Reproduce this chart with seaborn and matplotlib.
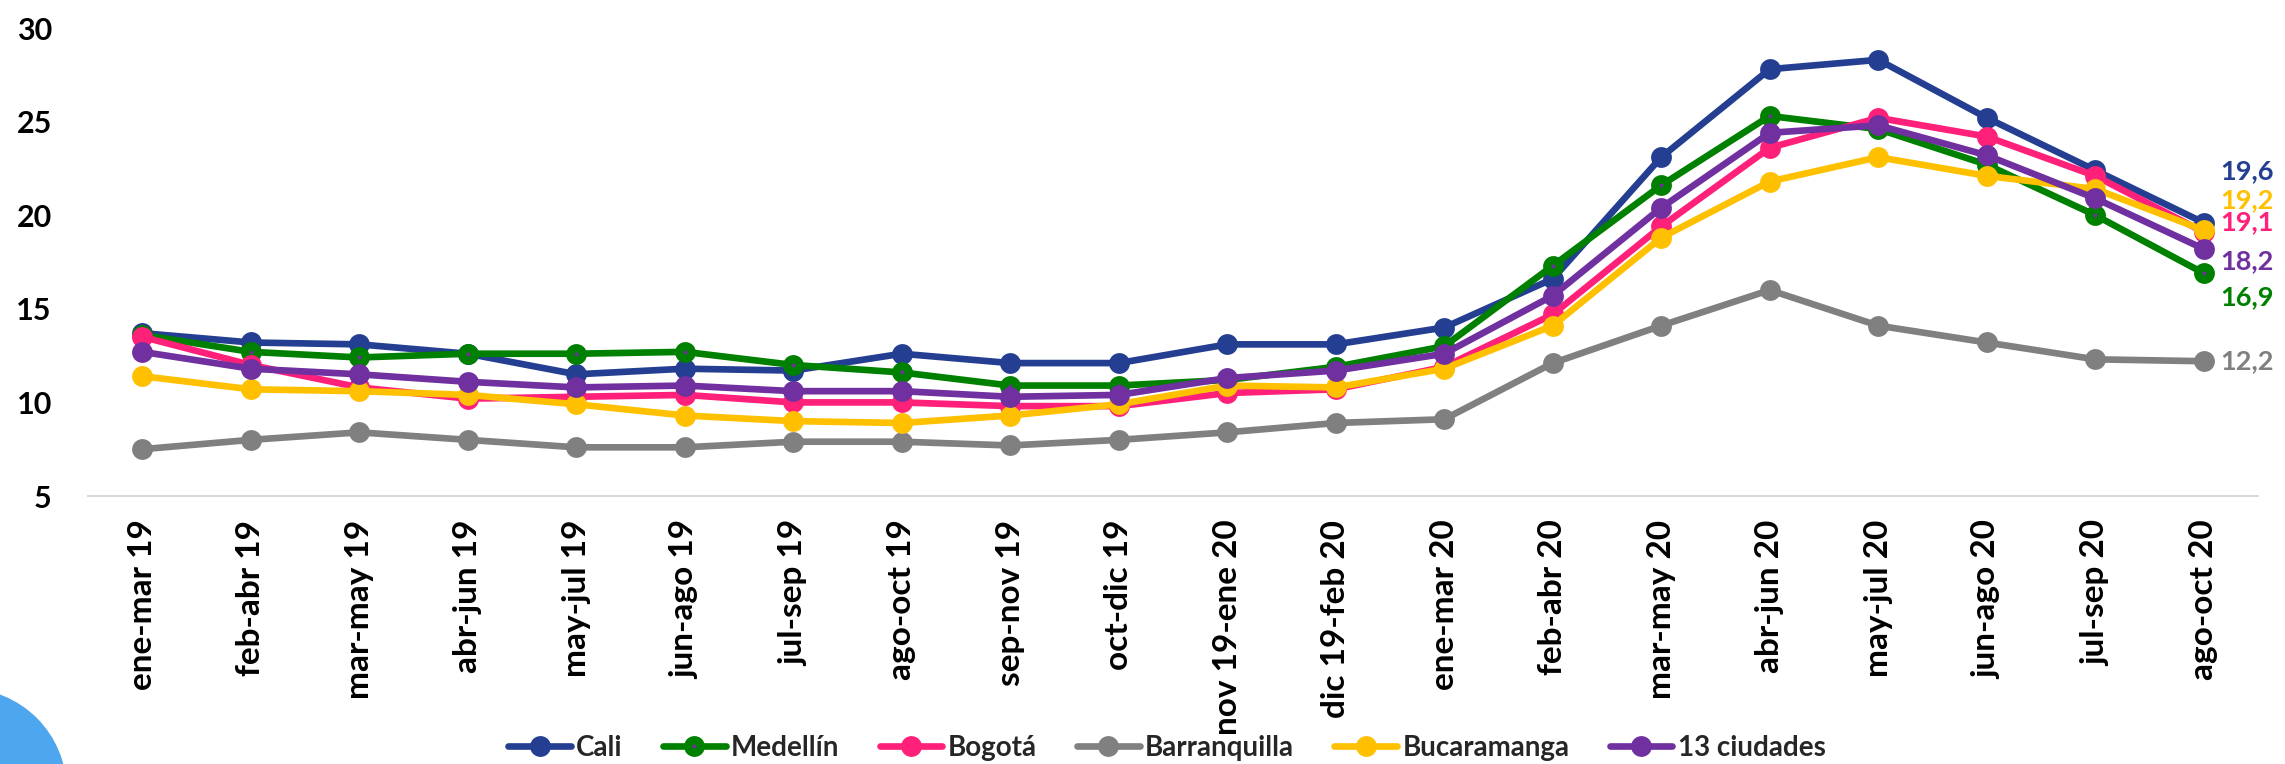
#!/usr/bin/env python3
"""Tasa de desempleo trimestre móvil por ciudad (ene-mar 19 a ago-oct 20)."""
import matplotlib.pyplot as plt
import pandas as pd
import seaborn as sns
from matplotlib.patches import Ellipse

PERIODS = [
    "ene-mar 19", "feb-abr 19", "mar-may 19", "abr-jun 19", "may-jul 19",
    "jun-ago 19", "jul-sep 19", "ago-oct 19", "sep-nov 19", "oct-dic 19",
    "nov 19-ene 20", "dic 19-feb 20", "ene-mar 20", "feb-abr 20", "mar-may 20",
    "abr-jun 20", "may-jul 20", "jun-ago 20", "jul-sep 20", "ago-oct 20",
]
CITIES = ["Cali", "Medellín", "Bogotá", "Barranquilla", "Bucaramanga", "13 ciudades"]

CALI = [13.7, 13.2, 13.1, 12.6, 11.5, 11.8, 11.7, 12.6, 12.1, 12.1,
        13.1, 13.1, 14.0, 16.6, 23.1, 27.8, 28.3, 25.2, 22.4, 19.6]
MEDELLIN = [13.6, 12.7, 12.4, 12.6, 12.6, 12.7, 12.0, 11.6, 10.9, 10.9,
            11.2, 11.9, 13.0, 17.3, 21.6, 25.3, 24.6, 22.7, 20.0, 16.9]
BOGOTA = [13.5, 12.0, 10.8, 10.2, 10.3, 10.4, 10.0, 10.0, 9.8, 9.8,
          10.5, 10.7, 11.9, 14.7, 19.4, 23.6, 25.2, 24.2, 22.1, 19.1]
BARRANQUILLA = [7.5, 8.0, 8.4, 8.0, 7.6, 7.6, 7.9, 7.9, 7.7, 8.0,
                8.4, 8.9, 9.1, 12.1, 14.1, 16.0, 14.1, 13.2, 12.3, 12.2]
BUCARAMANGA = [11.4, 10.7, 10.6, 10.4, 9.9, 9.3, 9.0, 8.9, 9.3, 9.9,
               10.9, 10.8, 11.8, 14.1, 18.8, 21.8, 23.1, 22.1, 21.4, 19.2]
TRECE = [12.7, 11.8, 11.5, 11.1, 10.8, 10.9, 10.6, 10.6, 10.3, 10.4,
         11.3, 11.7, 12.6, 15.7, 20.4, 24.4, 24.8, 23.2, 20.9, 18.2]

COLORS = {
    "Cali": "#243f91",
    "Medellín": "#008000",
    "Bogotá": "#ff2079",
    "Barranquilla": "#808080",
    "Bucaramanga": "#ffc000",
    "13 ciudades": "#7030a0",
}
# vertical shift (points) of the end-value labels so they don't collide
LABEL_SHIFT = {
    "Cali": 37, "Medellín": -17.5, "Bogotá": 7, "Barranquilla": 0,
    "Bucaramanga": 21.5, "13 ciudades": -8.5,
}

sns.set_theme(style="white")
plt.rcParams["font.family"] = ["Lato", "DejaVu Sans"]
plt.rcParams["font.weight"] = "bold"

df = pd.DataFrame({
    "periodo": PERIODS,
    "Cali": CALI,
    "Medellín": MEDELLIN,
    "Bogotá": BOGOTA,
    "Barranquilla": BARRANQUILLA,
    "Bucaramanga": BUCARAMANGA,
    "13 ciudades": TRECE,
}).melt(id_vars="periodo", var_name="ciudad", value_name="tasa")

W, H = 2285, 764
fig = plt.figure(figsize=(W / 100, H / 100), dpi=100)
ax = fig.add_axes([88 / W, 1 - 496 / H, 2170 / W, 468 / H])

for city in CITIES:
    sub = df[df["ciudad"] == city]
    if city == "Medellín":
        style = dict(markersize=9, markeredgewidth=6,
                     markerfacecolor=COLORS["13 ciudades"],
                     markeredgecolor=COLORS[city])
    else:
        style = dict(markersize=15, markeredgewidth=0)
    sns.lineplot(data=sub, x="periodo", y="tasa", color=COLORS[city],
                 linewidth=4.8, marker="o", sort=False, errorbar=None,
                 label=city, ax=ax, **style)

last = len(PERIODS) - 1
for city in CITIES:
    v = df[(df["ciudad"] == city) & (df["periodo"] == PERIODS[-1])]["tasa"].iloc[0]
    ax.annotate(f"{v:.1f}".replace(".", ","), xy=(last, v),
                xytext=(12, LABEL_SHIFT[city]), textcoords="offset points",
                ha="left", va="center", color=COLORS[city], fontsize=19.5,
                fontweight="bold", annotation_clip=False)

ax.set_xlim(-0.5, len(PERIODS) - 0.5)
ax.set_ylim(5, 30)
ax.set_yticks(range(5, 31, 5))
ax.set_xlabel("")
ax.set_ylabel("")
ax.tick_params(axis="y", length=0, pad=26, labelsize=22, colors="black")
ax.tick_params(axis="x", length=0, pad=17, labelsize=24, colors="black",
               labelrotation=90)
for side in ("left", "right", "top"):
    ax.spines[side].set_visible(False)
ax.spines["bottom"].set_color("#d9d9d9")
ax.spines["bottom"].set_linewidth(1.5)
ax.grid(False)

handles, labels = ax.get_legend_handles_labels()
ax.legend(handles, labels, loc="center", bbox_to_anchor=(1167 / W, 1 - 748 / H),
          bbox_transform=fig.transFigure, ncol=6, frameon=False, fontsize=20,
          handlelength=2.25, handletextpad=0.2, columnspacing=1.45,
          borderaxespad=0, borderpad=0, numpoints=1)

# decorative blue blob in the lower-left corner
fig.add_artist(Ellipse((-35 / W, 1 - 790 / H), 202 / W, 202 / H,
                       color="#4ea6ee", zorder=0))

fig.savefig("out.png", dpi=100)
plt.close(fig)
